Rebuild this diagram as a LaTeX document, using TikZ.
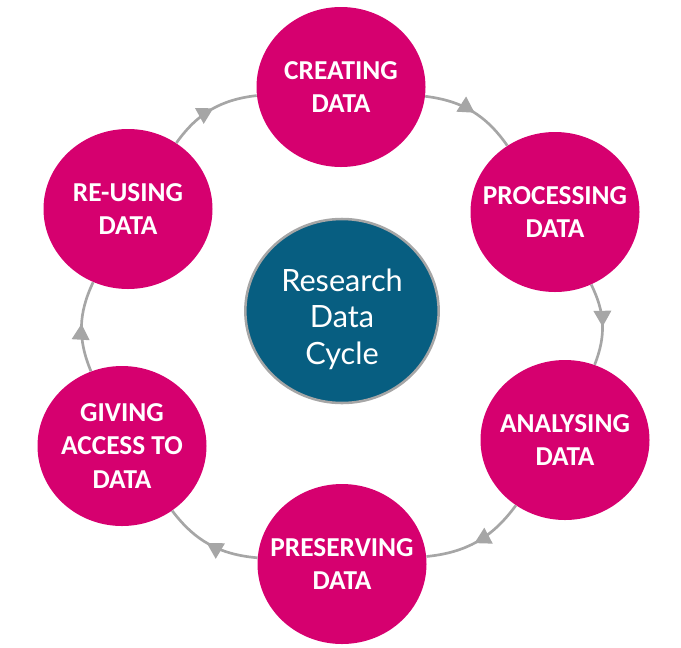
\documentclass[tikz,border=0pt]{standalone}
\usepackage{fontspec}
\setmainfont{Carlito}
\newfontfamily\hubfont{Lato}
\usetikzlibrary{shapes.geometric,decorations.markings,arrows.meta}
\definecolor{cyclepink}{RGB}{214,0,111}
\definecolor{cycleblue}{RGB}{7,94,129}
\definecolor{cyclegrey}{RGB}{166,166,166}

\begin{document}
\begin{tikzpicture}[x=0.75pt,y=-0.75pt,
  st/.style={ellipse,fill=cyclepink,minimum width=126.75pt,minimum height=120pt,
    inner xsep=-40pt,inner ysep=-30pt,align=center,text=white,
    font=\fontsize{20.5}{25}\selectfont\bfseries},
  hub/.style={ellipse,fill=cycleblue,draw=cyclegrey,line width=1.9pt,minimum width=145pt,
    minimum height=138pt,inner sep=0pt},
  hubtext/.style={align=center,text=white,inner sep=0pt,font=\hubfont\fontsize{23}{27.5}\selectfont},
  ring/.style={draw=cyclegrey,line width=2pt,postaction={decorate},
    decoration={markings,mark=at position 0.53 with {\arrow{Triangle[length=12pt,width=13pt]}}}}]
  \useasboundingbox (0,0) rectangle (681,647);
  % centre of the cycle
  \node[hub] (hub) at (342,311) {};
  \node[hubtext] (hubtext) at ([yshift=-6pt]hub.center) {Research\\Data\\Cycle};
  % the six stages, clockwise from the top
  \node[st] (create)   at (341,87)  {CREATING\\DATA};
  \node[st] (process)  at (555,212) {PROCESSING\\DATA};
  \node[st] (analyse)  at (565,440) {ANALYSING\\DATA};
  \node[st] (preserve) at (342,564) {PRESERVING\\DATA};
  \node[st] (give)     at (122,446) {GIVING\\ACCESS TO\\DATA};
  \node[st] (reuse)    at (128,209) {RE-USING\\DATA};
  \foreach \a/\b in {create/process,process/analyse,analyse/preserve,
                     preserve/give,give/reuse,reuse/create}
    \draw[ring] (\a) to[bend left=24] (\b);
\end{tikzpicture}
\end{document}
